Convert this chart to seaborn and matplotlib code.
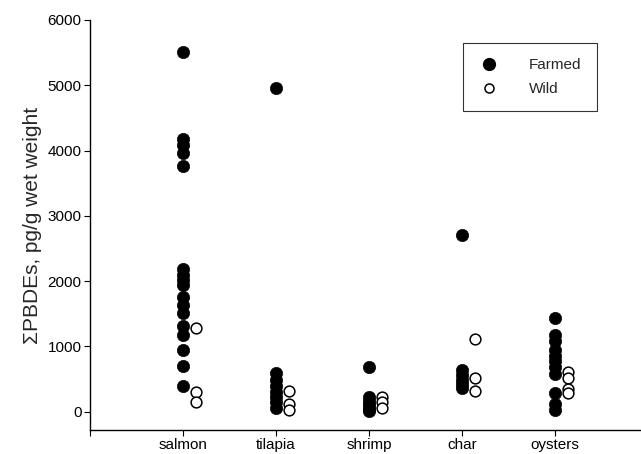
import numpy as np
import pandas as pd
import matplotlib
matplotlib.use("Agg")
import matplotlib.pyplot as plt
import seaborn as sns

categories = ["salmon", "tilapia", "shrimp", "char", "oysters"]

salmon_farmed = [5510, 4170, 4080, 3960, 3770, 2180, 2100, 2020, 1940, 1760, 1640, 1510, 1310, 1180, 940, 700, 390]
salmon_wild = [1280, 300, 150]
tilapia_farmed = [4960, 590, 480, 400, 300, 220, 150, 50]
tilapia_wild = [320, 110, 30]
shrimp_farmed = [680, 220, 170, 120, 70, 30, 10]
shrimp_wild = [230, 150, 50]
char_farmed = [2710, 640, 560, 480, 420, 360]
char_wild = [1110, 510, 310]
oysters_farmed = [1440, 1180, 1080, 950, 860, 770, 680, 570, 290, 120, 20]
oysters_wild = [600, 520, 340, 290]

farmed = [salmon_farmed, tilapia_farmed, shrimp_farmed, char_farmed, oysters_farmed]
wild = [salmon_wild, tilapia_wild, shrimp_wild, char_wild, oysters_wild]

yticks = [0, 1000, 2000, 3000, 4000, 5000, 6000]

rows = []
for i, cat in enumerate(categories):
    for v in farmed[i]:
        rows.append({"cat": cat, "idx": i + 1, "group": "Farmed", "value": v})
    for v in wild[i]:
        rows.append({"cat": cat, "idx": i + 1, "group": "Wild", "value": v})
df = pd.DataFrame(rows)
offset = {"Farmed": 0.0, "Wild": 0.14}
df["xpos"] = df["idx"] + df["group"].map(offset)

sns.set_style("ticks")
plt.rcParams["font.family"] = ["Liberation Sans", "DejaVu Sans"]

fig = plt.figure(figsize=(6.41, 4.54), dpi=100)
ax = fig.add_axes([0.140, 0.053, 0.858, 0.903])

dfF = df[df.group == "Farmed"]
dfW = df[df.group == "Wild"]
sns.scatterplot(data=dfF, x="xpos", y="value", ax=ax, s=78, color="black",
                edgecolor="black", linewidth=0.5, label="Farmed", zorder=3)
sns.scatterplot(data=dfW, x="xpos", y="value", ax=ax, s=60, facecolor="white",
                edgecolor="black", linewidth=1.1, label="Wild", zorder=3)

ax.set_xlim(0, 5.91)
ax.set_ylim(-280, 6000)
ax.set_xticks([0] + [i + 1 for i in range(len(categories))])
ax.set_xticklabels([""] + categories, fontsize=11)
ax.set_yticks(yticks)
ax.set_yticklabels([str(t) for t in yticks], fontsize=11)
ax.set_xlabel("")
ax.set_ylabel("ΣPBDEs, pg/g wet weight", fontsize=15, labelpad=4)
ax.tick_params(axis="both", direction="out", length=4, width=0.8, colors="black", pad=2)
for s in ["top", "right"]:
    ax.spines[s].set_visible(False)
for s in ["left", "bottom"]:
    ax.spines[s].set_color("black")
    ax.spines[s].set_linewidth(1.0)

handles = [
    plt.Line2D([], [], marker="o", linestyle="", markersize=8.5, markerfacecolor="black", markeredgecolor="black"),
    plt.Line2D([], [], marker="o", linestyle="", markersize=6.5, markerfacecolor="white", markeredgecolor="black", markeredgewidth=1.1),
]
leg = ax.legend(handles, ["Farmed", "Wild"], loc="upper right", bbox_to_anchor=(0.922, 0.944),
                borderaxespad=0, frameon=True, fancybox=False, edgecolor="black", fontsize=11,
                handletextpad=2.0, borderpad=1.0, labelspacing=0.65, handlelength=1.3)
leg.get_frame().set_linewidth(0.8)

fig.savefig("out.png", dpi=100)
